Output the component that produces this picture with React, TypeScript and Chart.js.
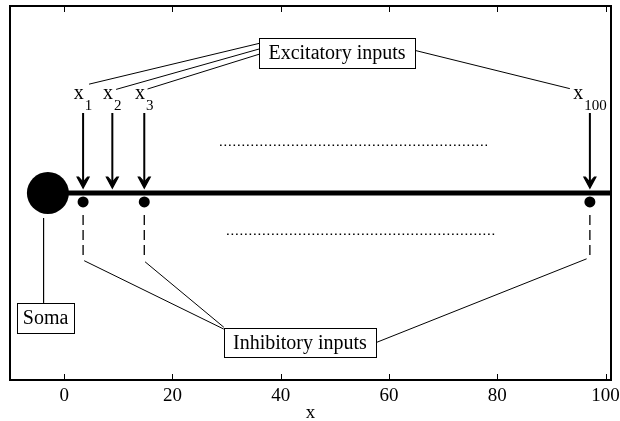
import React, { useEffect, useRef } from "react";
import { Chart, registerables } from "chart.js";

Chart.register(...registerables);

// ---- axis ----
const xTicks = [0, 20, 40, 60, 80, 100];
const xRange = [-10, 101];
const yRange = [0, 10];
const axisTitle = "x";

// ---- soma & dendrite ----
const somaX = [-3];
const somaY = [5.0];
const dendriteX = [-3, 101];
const dendriteY = [5.0, 5.0];

// ---- excitatory inputs (arrows) ----
const excitatoryX = [3.5, 8.9, 14.8, 97.1];
const excitatorySub = ["1", "2", "3", "100"];
const arrowTopY = [7.14, 7.14, 7.14, 7.14];
const arrowTipY = [5.13, 5.13, 5.13, 5.13];
const labelBaseY = [7.51, 7.51, 7.51, 7.51];

// connectors label -> "Excitatory inputs" box
const excFromX = [4.6, 9.6, 15.4, 93.4];
const excFromY = [7.91, 7.77, 7.78, 7.79];
const excToX = [36.0, 36.0, 36.0, 64.6];
const excToY = [9.0, 8.85, 8.71, 8.82];
const excBoxX = [36.0, 64.8];
const excBoxY = [8.34, 9.14];
const excBoxText = "Excitatory inputs";

// ---- inhibitory inputs (dots) ----
const inhibitoryX = [3.5, 14.8, 97.1];
const inhibitoryY = [4.76, 4.76, 4.76];
const dashTopY = [4.41, 4.41, 4.41];
const dashBottomY = [3.34, 3.34, 3.34];
const inhFromX = [3.7, 14.95, 96.5];
const inhFromY = [3.19, 3.16, 3.24];
const inhToX = [29.5, 29.5, 57.6];
const inhToY = [1.36, 1.41, 1.0];
const inhBoxX = [29.5, 57.6];
const inhBoxY = [0.61, 1.39];
const inhBoxText = "Inhibitory inputs";

// ---- soma label ----
const somaLineX = [-3.8, -3.8];
const somaLineY = [4.33, 2.06];
const somaBoxX = [-8.7, 1.85];
const somaBoxY = [1.26, 2.06];
const somaBoxText = "Soma";

// ---- dotted "..." lines ----
const dotsTopX = [28.8, 78.1];
const dotsTopY = [6.28, 6.28];
const dotsBottomX = [30.1, 79.6];
const dotsBottomY = [3.9, 3.9];

const FONT = '"Liberation Serif", "Times New Roman", Times, serif';

function seg(xs: number[], ys: number[], width: number, dash: number[] = []) {
  return {
    data: xs.map((x, i) => ({ x, y: ys[i] })),
    showLine: true,
    borderColor: "#000",
    borderWidth: width,
    borderDash: dash,
    pointRadius: 0,
    pointHoverRadius: 0,
    fill: false,
    tension: 0,
  };
}

const diagramPlugin = {
  id: "diagram",
  afterDraw(chart: any) {
    const { ctx, chartArea } = chart;
    const xs = chart.scales.x;
    const ys = chart.scales.y;
    const px = (v: number) => xs.getPixelForValue(v);
    const py = (v: number) => ys.getPixelForValue(v);
    ctx.save();

    // arrowheads
    ctx.fillStyle = "#000";
    excitatoryX.forEach((x, i) => {
      const tx = px(x);
      const ty = py(arrowTipY[i]);
      ctx.beginPath();
      ctx.moveTo(tx, ty);
      ctx.lineTo(tx - 6, ty - 11);
      ctx.lineTo(tx - 4.5, ty - 11);
      ctx.lineTo(tx, ty - 6);
      ctx.lineTo(tx + 4.5, ty - 11);
      ctx.lineTo(tx + 6, ty - 11);
      ctx.closePath();
      ctx.fill();
      ctx.strokeStyle = "#000";
      ctx.lineWidth = 1.2;
      ctx.stroke();
    });

    // x_i labels
    excitatoryX.forEach((x, i) => {
      ctx.font = `20px ${FONT}`;
      const wx = ctx.measureText("x").width;
      ctx.font = `15px ${FONT}`;
      const ws = ctx.measureText(excitatorySub[i]).width;
      const total = wx + 1 + ws;
      const left = px(x) - total / 2;
      const base = py(labelBaseY[i]);
      ctx.fillStyle = "#000";
      ctx.textAlign = "left";
      ctx.textBaseline = "alphabetic";
      ctx.font = `20px ${FONT}`;
      ctx.fillText("x", left, base);
      ctx.font = `15px ${FONT}`;
      ctx.fillText(excitatorySub[i], left + wx + 1, base + 11);
    });

    // boxes
    const box = (bx: number[], by: number[], text: string) => {
      const l = px(bx[0]);
      const r = px(bx[1]);
      const t = py(by[1]);
      const b = py(by[0]);
      ctx.fillStyle = "#fff";
      ctx.fillRect(l, t, r - l, b - t);
      ctx.strokeStyle = "#000";
      ctx.lineWidth = 1;
      ctx.setLineDash([]);
      ctx.strokeRect(Math.round(l) + 0.5, Math.round(t) + 0.5, Math.round(r - l), Math.round(b - t));
      ctx.fillStyle = "#000";
      ctx.font = `20px ${FONT}`;
      ctx.textAlign = "center";
      ctx.textBaseline = "middle";
      ctx.fillText(text, (l + r) / 2, (t + b) / 2 + 1);
    };
    box(excBoxX, excBoxY, excBoxText);
    box(inhBoxX, inhBoxY, inhBoxText);
    box(somaBoxX, somaBoxY, somaBoxText);

    // frame
    ctx.strokeStyle = "#000";
    ctx.lineWidth = 2;
    ctx.setLineDash([]);
    ctx.strokeRect(chartArea.left, chartArea.top, chartArea.right - chartArea.left, chartArea.bottom - chartArea.top);

    // inward ticks (top & bottom)
    ctx.lineWidth = 1;
    xs.ticks.forEach((t: any) => {
      const x = Math.round(px(t.value)) + 0.5;
      ctx.beginPath();
      ctx.moveTo(x, chartArea.bottom);
      ctx.lineTo(x, chartArea.bottom - 6);
      ctx.moveTo(x, chartArea.top);
      ctx.lineTo(x, chartArea.top + 6);
      ctx.stroke();
    });
    ctx.restore();
  },
};

export default function App() {
  const ref = useRef<HTMLCanvasElement | null>(null);
  useEffect(() => {
    document.body.style.margin = "0";
    const canvas = ref.current;
    if (!canvas) return;
    const datasets: any[] = [
      {
        data: somaX.map((x, i) => ({ x, y: somaY[i] })),
        pointRadius: 21,
        pointHoverRadius: 21,
        backgroundColor: "#000",
        borderWidth: 0,
        showLine: false,
      },
      {
        data: inhibitoryX.map((x, i) => ({ x, y: inhibitoryY[i] })),
        pointRadius: 5.5,
        pointHoverRadius: 5.5,
        backgroundColor: "#000",
        borderWidth: 0,
        showLine: false,
      },
      seg(dendriteX, dendriteY, 5),
      ...excitatoryX.map((x, i) => seg([x, x], [arrowTopY[i], arrowTipY[i] + 0.12], 2)),
      ...excFromX.map((x, i) => seg([x, excToX[i]], [excFromY[i], excToY[i]], 1)),
      ...inhibitoryX.map((x, i) => seg([x, x], [dashTopY[i], dashBottomY[i]], 1.3, [10, 5])),
      ...inhFromX.map((x, i) => seg([x, inhToX[i]], [inhFromY[i], inhToY[i]], 1)),
      seg(somaLineX, somaLineY, 1),
      seg(dotsTopX, dotsTopY, 1.5, [1.5, 3]),
      seg(dotsBottomX, dotsBottomY, 1.5, [1.5, 3]),
    ];
    const chart = new Chart(canvas, {
      type: "scatter",
      data: { datasets },
      options: {
        animation: false,
        responsive: false,
        events: [],
        layout: { autoPadding: false, padding: { left: 10, top: 6, right: 9, bottom: 0 } },
        plugins: { legend: { display: false }, tooltip: { enabled: false } },
        scales: {
          x: {
            type: "linear",
            min: xRange[0],
            max: xRange[1],
            afterBuildTicks: (s: any) => {
              s.ticks = xTicks.map((v) => ({ value: v }));
            },
            afterFit: (s: any) => {
              s.height = 41;
              s.paddingLeft = 0;
              s.paddingRight = 0;
            },
            grid: { display: false, drawTicks: false },
            border: { display: false },
            ticks: {
              font: { family: FONT, size: 19 },
              color: "#000",
              padding: 5,
              maxRotation: 0,
              autoSkip: false,
            },
            title: {
              display: true,
              text: axisTitle,
              font: { family: FONT, size: 19 },
              color: "#000",
              padding: { top: 0, bottom: -3 },
            },
          },
          y: { type: "linear", min: yRange[0], max: yRange[1], display: false },
        },
      },
      plugins: [diagramPlugin],
    } as any);
    return () => chart.destroy();
  }, []);
  return (
    <div style={{ width: 620, height: 421 }}>
      <canvas ref={ref} width={620} height={421} style={{ display: "block" }} />
    </div>
  );
}
